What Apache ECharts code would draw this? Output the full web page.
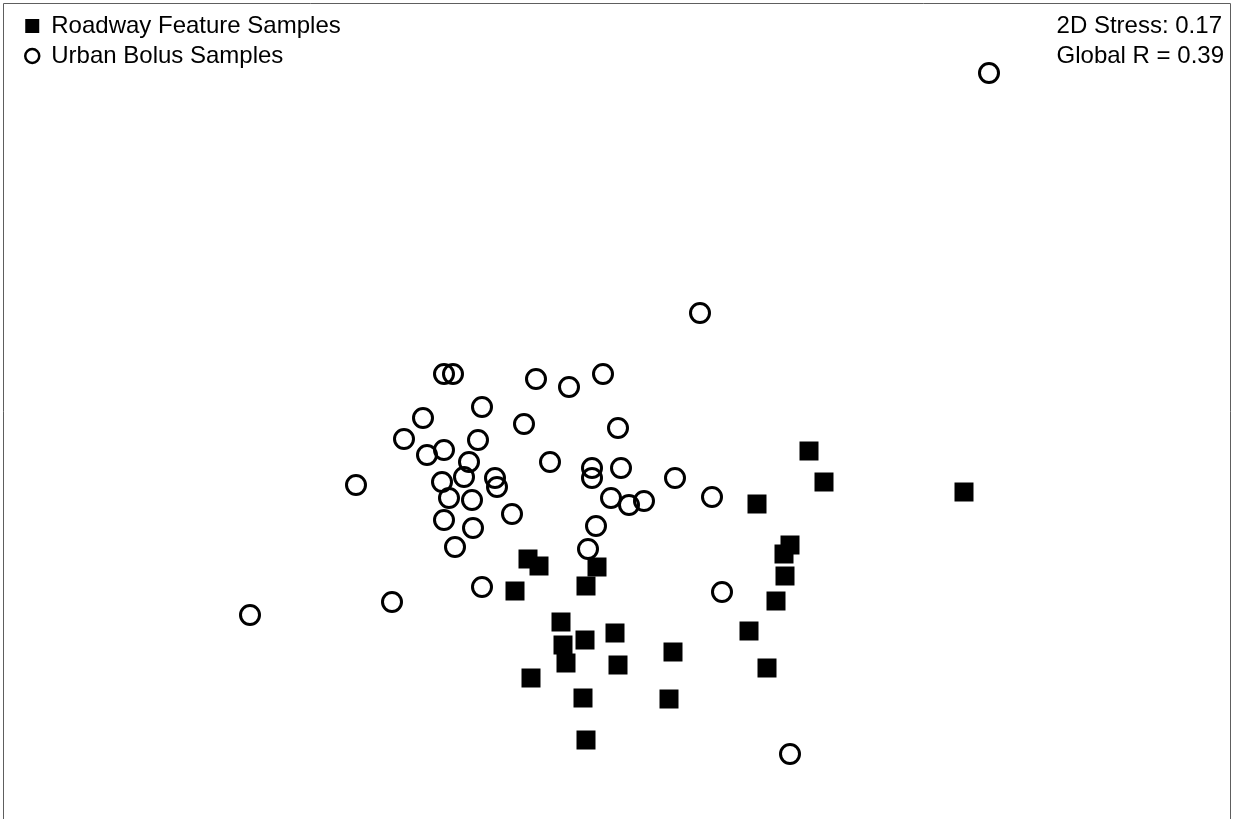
<!DOCTYPE html>
<html>
<head>
<meta charset="utf-8">
<title>nMDS ordination</title>
<script src="https://cdn.jsdelivr.net/npm/echarts@6/dist/echarts.min.js"></script>
<style>
  html, body { margin: 0; padding: 0; background: #fff; }
  #main { width: 1239px; height: 819px; }
</style>
</head>
<body>
<div id="main"></div>
<script>
// nMDS coordinates
var roadway = [
  [-0.92, -1.49], [-0.81, -1.56], [-0.23, -1.57], [-0.34, -1.76], [-1.05, -1.81],
  [-0.59, -2.12], [-0.35, -2.30], [-0.05, -2.23], [-0.57, -2.35], [-0.54, -2.53],
  [-0.02, -2.55], [0.53, -2.42], [-0.89, -2.68], [-0.37, -2.88], [0.49, -2.89],
  [-0.34, -3.30], [1.89, -0.41], [2.04, -0.72], [1.37, -0.94], [1.70, -1.35],
  [1.64, -1.44], [1.65, -1.66], [1.56, -1.91], [1.29, -2.21], [1.47, -2.58],
  [3.44, -0.82]
]
var urbanBolus = [
  [3.69, 3.37], [0.80, 0.97], [-1.76, 0.36], [-1.67, 0.36], [-1.38, 0.03],
  [-1.97, -0.08], [-2.16, -0.29], [-1.42, -0.30], [-1.93, -0.45], [-1.76, -0.40],
  [-1.51, -0.52], [-1.56, -0.67], [-1.78, -0.72], [-1.25, -0.68], [-1.23, -0.77],
  [-1.71, -0.88], [-1.48, -0.90], [-2.64, -0.75], [-1.08, -1.04], [-1.76, -1.10],
  [-1.47, -1.18], [-1.65, -1.37], [-1.38, -1.77], [-2.28, -1.92], [-3.70, -2.05],
  [-0.84, 0.31], [-0.51, 0.23], [-0.17, 0.36], [-0.96, -0.14], [-0.02, -0.18],
  [-0.70, -0.52], [-0.28, -0.58], [-0.28, -0.68], [0.01, -0.58], [0.55, -0.68],
  [-0.09, -0.88], [0.09, -0.95], [0.24, -0.91], [0.92, -0.87], [-0.24, -1.16],
  [-0.32, -1.39], [1.02, -1.82], [1.70, -3.44]
]
var seriesNames = ['Roadway Feature Samples', 'Urban Bolus Samples']
var stress = 0.17
var globalR = 0.39

var FONT = '"Liberation Sans", Arial, sans-serif'

var myChart = echarts.init(document.getElementById('main'))

var option = {
  animation: false,
  backgroundColor: '#fff',
  grid: { left: 0, right: 0, top: 0, bottom: 0 },
  xAxis: { type: 'value', min: -6.2, max: 6.19, show: false },
  yAxis: { type: 'value', min: -4.09, max: 4.10, show: false },
  legend: {
    orient: 'vertical',
    left: 19,
    top: 9,
    itemWidth: 14,
    itemHeight: 14,
    itemGap: 6,
    textStyle: { fontFamily: FONT, fontSize: 24, color: '#000', padding: [0, 0, 0, 7] },
    data: [
      { name: seriesNames[0], icon: 'rect' },
      { name: seriesNames[1], icon: 'circle', itemStyle: { borderWidth: 2.5, borderColor: '#000' } }
    ]
  },
  graphic: [
    {
      type: 'rect',
      silent: true,
      z: -1,
      shape: { x: 3.5, y: 3.5, width: 1227, height: 900 },
      style: { fill: 'none', stroke: '#5e5e5e', lineWidth: 1 }
    },
    {
      type: 'text',
      right: 15,
      top: 11,
      style: {
        text: '2D Stress: ' + stress.toFixed(2) + '\nGlobal R = ' + globalR.toFixed(2),
        font: '24px ' + FONT,
        fill: '#000',
        align: 'right',
        lineHeight: 30
      }
    }
  ],
  series: [
    {
      name: seriesNames[1],
      type: 'scatter',
      symbol: 'circle',
      symbolSize: 19,
      itemStyle: { color: 'rgba(255,255,255,0)', borderColor: '#000', borderWidth: 3, opacity: 1 },
      emphasis: { disabled: true },
      data: urbanBolus
    },
    {
      name: seriesNames[0],
      type: 'scatter',
      symbol: 'rect',
      symbolSize: 19,
      itemStyle: { color: '#000', opacity: 1 },
      emphasis: { disabled: true },
      data: roadway
    }
  ]
}
myChart.setOption(option)
</script>
</body>
</html>
